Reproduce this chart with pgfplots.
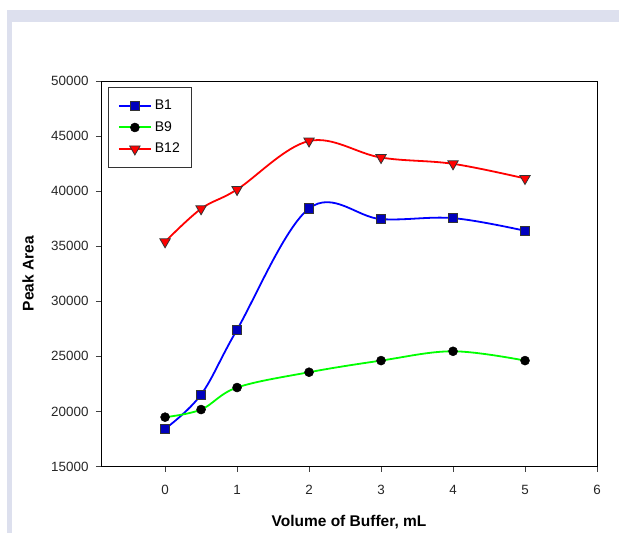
\documentclass[border=0pt]{standalone}
\usepackage{fontspec}
\setmainfont{Liberation Sans}
\usepackage{pgfplots}
\pgfplotsset{compat=1.18}
\definecolor{bandcol}{RGB}{221,224,238}
\definecolor{sqfill}{RGB}{0,0,190}
\begin{document}
\begin{tikzpicture}[x=1pt,y=1pt]
\path[use as bounding box] (0,0) rectangle (619,533);
\fill[bandcol] (7,511) rectangle (619,523);
\fill[bandcol] (7,0) rectangle (12,523);
\begin{axis}[
  at={(101pt,66.5pt)}, anchor=south west,
  scale only axis, width=496pt, height=385.5pt,
  xmin=-0.89, xmax=6, ymin=15000, ymax=50000,
  xtick={0,1,2,3,4,5,6},
  ytick={15000,20000,25000,30000,35000,40000,45000,50000},
  tick align=outside, tick pos=left, major tick length=5pt,
  axis line style={line width=0.9pt},
  every tick/.style={black!75, line width=0.8pt},
  /pgf/number format/assume math mode=true,
  /pgf/number format/1000 sep={},
  scaled y ticks=false,
  ticklabel style={font=\fontsize{13.4}{16}\selectfont, color=black!85},
  xticklabel style={yshift=-10pt},
  yticklabel style={xshift=-4pt},
  xlabel={\bfseries Volume of Buffer, mL},
  ylabel={\bfseries Peak Area},
  label style={font=\fontsize{15.5}{18}\selectfont},
  xlabel style={at={(axis description cs:0.5,0)}, anchor=center, yshift=-56pt},
  ylabel style={at={(axis description cs:0,0.5)}, anchor=center, yshift=73pt},
  legend style={at={(rel axis cs:0.015,0.985)}, anchor=north west,
    draw=black!80, line width=0.9pt, inner xsep=9pt, inner ysep=10pt,
    font=\fontsize{14}{16}\selectfont, row sep=4pt,
    nodes={text height=10.5pt, text depth=3pt, inner xsep=3pt}},
  legend cell align=left,
  legend image code/.code={\draw[line width=2pt,mark repeat=2,mark phase=2] plot coordinates {(0pt,0pt)(16pt,0pt)(32pt,0pt)};},
  every axis plot/.append style={line width=1.8pt},
]
\addplot[blue, smooth, tension=0.6, mark=square*, mark size=4.6pt,
  mark options={fill=sqfill, draw=black!80, line width=0.8pt}]
  coordinates {(0,18420) (0.5,21530) (1,27425) (2,38425) (3,37460) (4,37550) (5,36400)};
\addlegendentry{B1}
\addplot[green, smooth, tension=0.6, mark=*, mark size=4.5pt,
  mark options={fill=black, draw=black, line width=0.5pt}]
  coordinates {(0,19480) (0.5,20170) (1,22170) (2,23560) (3,24615) (4,25460) (5,24615)};
\addlegendentry{B9}
\addplot[red, smooth, tension=0.6, mark=triangle*, mark size=6pt,
  mark options={fill=red, draw=black!80, line width=0.8pt, rotate=180}]
  coordinates {(0,35400) (0.5,38400) (1,40150) (2,44550) (3,43050) (4,42480) (5,41150)};
\addlegendentry{B12}
\end{axis}
\end{tikzpicture}
\end{document}
